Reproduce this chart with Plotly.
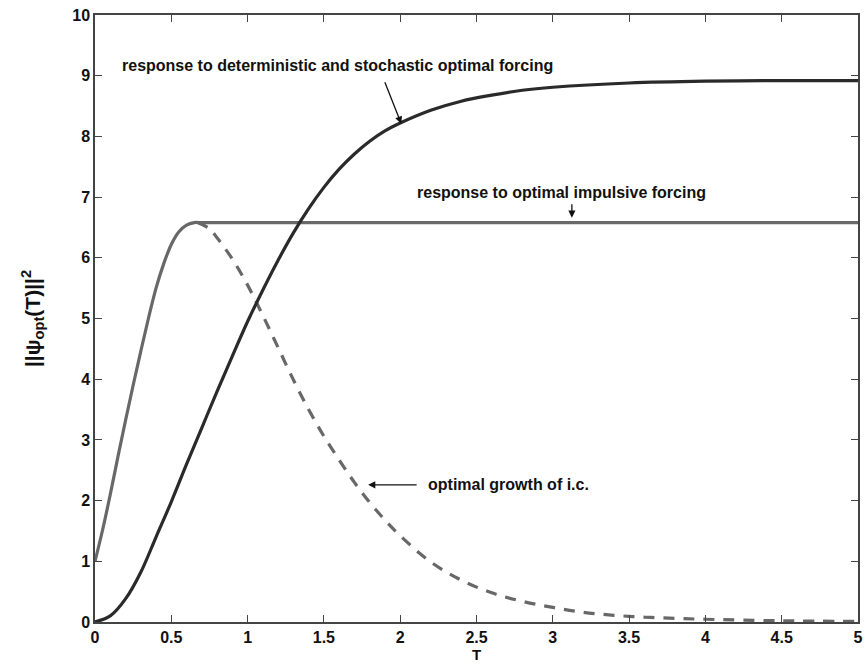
import plotly.graph_objects as go

# response to optimal impulsive forcing (gray solid)
t_imp = [0.0, 0.05, 0.1, 0.15, 0.2, 0.25, 0.3, 0.35, 0.4, 0.45, 0.5, 0.55, 0.6, 0.65, 0.7, 1.0, 2.0, 3.0, 4.0, 5.0]
v_imp = [1.0, 1.52, 2.1, 2.72, 3.32, 3.9, 4.46, 5.0, 5.5, 5.9, 6.22, 6.43, 6.54, 6.58, 6.58, 6.58, 6.58, 6.58, 6.58, 6.58]

# optimal growth of i.c. (gray dashed)
t_ic = [0.67, 0.75, 0.8, 0.9, 1.0, 1.1, 1.2, 1.3, 1.4, 1.5, 1.6, 1.7, 1.8, 1.9, 2.0, 2.2, 2.4, 2.6, 2.8, 3.0, 3.2, 3.4, 3.6, 3.8, 4.0, 4.5, 5.0]
v_ic = [6.58, 6.48, 6.33, 5.98, 5.55, 5.05, 4.52, 3.99, 3.5, 3.06, 2.67, 2.3, 1.97, 1.68, 1.42, 0.99, 0.69, 0.48, 0.34, 0.24, 0.16, 0.11, 0.08, 0.06, 0.045, 0.02, 0.01]

# response to deterministic and stochastic optimal forcing (black)
t_det = [0.0, 0.1, 0.2, 0.3, 0.4, 0.5, 0.6, 0.7, 0.8, 0.9, 1.0, 1.1, 1.2, 1.3, 1.4, 1.5, 1.6, 1.7, 1.8, 1.9, 2.0, 2.2, 2.4, 2.6, 2.8, 3.0, 3.5, 4.0, 4.5, 5.0]
v_det = [0.0, 0.1, 0.38, 0.82, 1.4, 1.98, 2.6, 3.2, 3.8, 4.38, 4.95, 5.47, 5.96, 6.41, 6.81, 7.16, 7.46, 7.71, 7.92, 8.09, 8.22, 8.43, 8.58, 8.68, 8.76, 8.81, 8.88, 8.91, 8.92, 8.92]

x_ticks = [0, 0.5, 1, 1.5, 2, 2.5, 3, 3.5, 4, 4.5, 5]
x_ticklabels = ["0", "0.5", "1", "1.5", "2", "2.5", "3", "3.5", "4", "4.5", "5"]
y_ticks = list(range(0, 11))

GRAY = "#686868"
BLACK = "#2a2a2a"
FONT = "Liberation Sans"
TXT = "#111111"

fig = go.Figure()
fig.add_trace(go.Scatter(x=t_ic, y=v_ic, mode="lines",
                         line=dict(color=GRAY, width=3.2, dash="11px,9px", shape="spline", smoothing=1)))
fig.add_trace(go.Scatter(x=t_imp, y=v_imp, mode="lines",
                         line=dict(color=GRAY, width=3.2, shape="spline", smoothing=1)))
fig.add_trace(go.Scatter(x=t_det, y=v_det, mode="lines",
                         line=dict(color=BLACK, width=3.2, shape="spline", smoothing=1)))

axis_common = dict(showgrid=False, zeroline=False, showline=True, linecolor="#444444", linewidth=1.5,
                   mirror="ticks", ticks="inside", ticklen=7, tickcolor="#444444", tickwidth=1.2,
                   ticklabeloverflow="allow",
                   tickfont=dict(family=FONT, size=16, color=TXT, weight="bold"))

fig.update_xaxes(range=[0, 5], tickvals=x_ticks, ticktext=x_ticklabels,
                 title=dict(text="T", font=dict(family=FONT, size=15, color=TXT, weight="bold"), standoff=0),
                 **axis_common)
fig.update_yaxes(range=[0, 10], tickvals=y_ticks,
                 title=dict(text="||ψ<sub>opt</sub>(T)||<sup>2</sup>",
                            font=dict(family=FONT, size=21, color=TXT, weight="bold"), standoff=26),
                 **axis_common)

ann_font = dict(family=FONT, size=16, color=TXT, weight="bold")
fig.add_annotation(x=1.592, y=9.16, text="response to deterministic and stochastic optimal forcing",
                   showarrow=False, font=ann_font)
fig.add_annotation(x=3.06, y=7.07, text="response to optimal impulsive forcing",
                   showarrow=False, font=ann_font)
fig.add_annotation(x=2.168, y=2.26, text="optimal growth of i.c.", xanchor="left",
                   showarrow=False, font=ann_font)

arrow_style = dict(showarrow=True, arrowhead=2, arrowsize=1.1, arrowwidth=1.3, arrowcolor=TXT, text="")
fig.add_annotation(x=2.007, y=8.21, ax=-17, ay=-43, **arrow_style)
fig.add_annotation(x=3.125, y=6.66, ax=0, ay=-15, **arrow_style)
fig.add_annotation(x=1.79, y=2.26, ax=50, ay=0, **arrow_style)

fig.update_layout(width=865, height=664, showlegend=False,
                  margin=dict(l=95, r=2, t=15, b=42),
                  plot_bgcolor="white", paper_bgcolor="white")

fig.write_html("out.html")
